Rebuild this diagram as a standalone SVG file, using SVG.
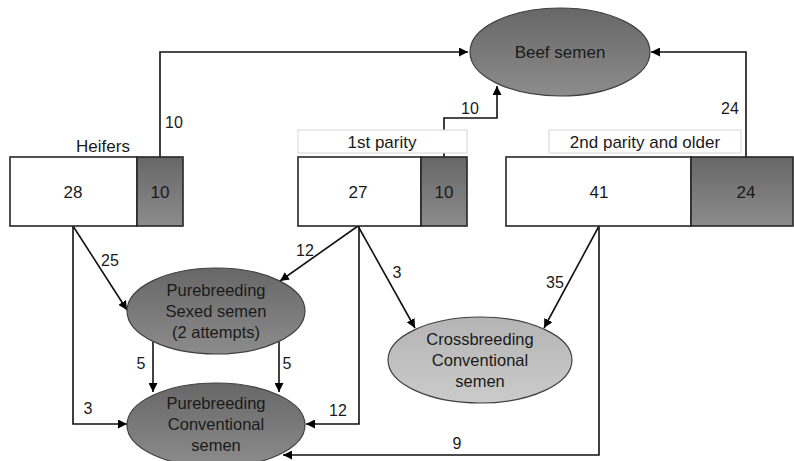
<svg xmlns="http://www.w3.org/2000/svg" width="794" height="461" viewBox="0 0 794 461">
<defs>
<linearGradient id="dark" x1="0" y1="0" x2="0" y2="1">
<stop offset="0" stop-color="#676767"/>
<stop offset="1" stop-color="#8c8c8c"/>
</linearGradient>
<linearGradient id="light" x1="0" y1="0" x2="0" y2="1">
<stop offset="0" stop-color="#b4b4b4"/>
<stop offset="1" stop-color="#cbcbcb"/>
</linearGradient>
<marker id="ah" viewBox="0 0 10 10" refX="10" refY="5" markerWidth="9" markerHeight="9" markerUnits="userSpaceOnUse" orient="auto">
<path d="M0,0 L10,5 L0,10 z" fill="#000"/>
</marker>
<style>
text{font-family:"Liberation Sans",Arial,sans-serif;fill:#1a1a1a;text-anchor:middle}
.n{font-size:17px}
.e{font-size:16.5px}
.lbl{font-size:16px}
.box{fill:#fff;stroke:#262626;stroke-width:1.6}
.dbox{fill:url(#dark);stroke:#262626;stroke-width:1.6}
.tag{fill:#fff;stroke:#d6d6d6;stroke-width:1}
.ell{fill:url(#dark);stroke:#404040;stroke-width:1.2}
.ell2{fill:url(#light);stroke:#404040;stroke-width:1.2}
.c{fill:none;stroke:#111;stroke-width:1.6;marker-end:url(#ah)}
</style>
</defs>

<g id="connectors">
<path class="c" d="M160,157 V52 H468"/>
<path class="c" d="M444,157 V118 H497 V86"/>
<path class="c" d="M746,157 V52 H651"/>
<path class="c" d="M73,226 L127,310"/>
<path class="c" d="M73,226 V424 H127"/>
<path class="c" d="M358,226 L280,281"/>
<path class="c" d="M359,226 V424 H306"/>
<path class="c" d="M358,226 L415,328"/>
<path class="c" d="M599,226 L544,328"/>
<path class="c" d="M599,226 V455 H283"/>
<path class="c" d="M153,342 V392"/>
<path class="c" d="M279,342 V392"/>
<text class="lbl" x="174" y="128">10</text>
<text class="lbl" x="470" y="114">10</text>
<text class="lbl" x="730" y="114">24</text>
<text class="lbl" x="110" y="266">25</text>
<text class="lbl" x="88" y="414">3</text>
<text class="lbl" x="305" y="256">12</text>
<text class="lbl" x="338" y="416">12</text>
<text class="lbl" x="397" y="278">3</text>
<text class="lbl" x="555" y="288">35</text>
<text class="lbl" x="457" y="449">9</text>
<text class="lbl" x="141" y="369">5</text>
<text class="lbl" x="287" y="369">5</text>
</g>

<g id="heifers">
<text class="n" x="103" y="152">Heifers</text>
<rect class="box" x="10" y="157" width="127" height="69"/>
<rect class="dbox" x="137" y="157" width="46" height="69"/>
<text class="n" x="73" y="198">28</text>
<text class="n" x="160" y="198">10</text>
</g>

<g id="first-parity">
<rect class="tag" x="298" y="130" width="169" height="23"/>
<text class="n" x="382" y="148">1st parity</text>
<rect class="box" x="298" y="157" width="123" height="69"/>
<rect class="dbox" x="421" y="157" width="46" height="69"/>
<text class="n" x="358" y="198">27</text>
<text class="n" x="444" y="198">10</text>
</g>

<g id="second-parity">
<rect class="tag" x="549" y="130" width="192" height="23"/>
<text class="n" x="645" y="148">2nd parity and older</text>
<rect class="box" x="506" y="157" width="185" height="69"/>
<rect class="dbox" x="691" y="157" width="102" height="69"/>
<text class="n" x="599" y="198">41</text>
<text class="n" x="746" y="198">24</text>
</g>

<g id="beef-semen">
<ellipse class="ell" cx="560" cy="52" rx="90" ry="44"/>
<text class="n" x="560" y="58">Beef semen</text>
</g>

<g id="pure-sexed">
<ellipse class="ell" cx="216" cy="311" rx="89" ry="43"/>
<text class="e" x="216" y="296">Purebreeding</text>
<text class="e" x="216" y="317">Sexed semen</text>
<text class="e" x="216" y="338">(2 attempts)</text>
</g>

<g id="pure-conventional">
<ellipse class="ell" cx="216" cy="425" rx="89" ry="42"/>
<text class="e" x="216" y="409">Purebreeding</text>
<text class="e" x="216" y="430">Conventional</text>
<text class="e" x="216" y="451">semen</text>
</g>

<g id="cross-conventional">
<ellipse class="ell2" cx="480" cy="360" rx="92" ry="43"/>
<text class="e" x="480" y="345">Crossbreeding</text>
<text class="e" x="480" y="366">Conventional</text>
<text class="e" x="480" y="387">semen</text>
</g>
</svg>
